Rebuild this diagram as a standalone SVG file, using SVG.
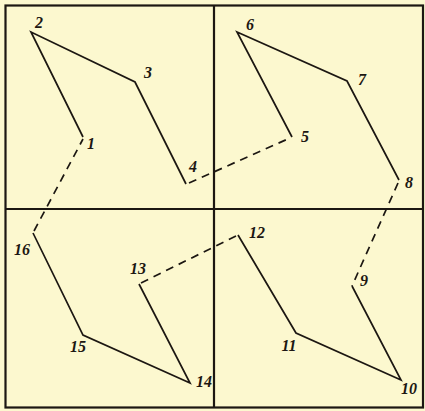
<svg xmlns="http://www.w3.org/2000/svg" width="425" height="411" viewBox="0 0 425 411">
<style>
.bg{fill:#fcf8cf}
.frame{fill:none;stroke:#1c1712;stroke-width:2.2}
.solid{fill:none;stroke:#1c1712;stroke-width:1.7;stroke-linejoin:miter}
.dash{fill:none;stroke:#1c1712;stroke-width:1.7;stroke-dasharray:8 6}
.lbl{font-family:"Liberation Serif",serif;font-style:italic;font-weight:bold;font-size:16px;fill:#1c1712;text-anchor:middle}
</style>
<rect class="bg" x="0" y="0" width="425" height="411"/>
<g id="frame">
<rect class="frame" x="5.5" y="5.5" width="417.5" height="402"/>
<line class="frame" x1="214" y1="5.5" x2="214" y2="407.5"/>
<line class="frame" x1="5.5" y1="209" x2="423" y2="209"/>
</g>
<g id="connectors">
<polyline class="solid" points="83,137 31,32 135,82 186,184"/>
<line class="dash" x1="189" y1="183" x2="290" y2="138"/>
<polyline class="solid" points="292,137 237,32 347,81 399,180"/>
<line class="dash" x1="398" y1="183" x2="352" y2="286"/>
<polyline class="solid" points="352,286 401,380 296,333 238,235"/>
<line class="dash" x1="236" y1="236" x2="141" y2="283"/>
<polyline class="solid" points="139,284 190,383 83,335 33,233"/>
<line class="dash" x1="34" y1="231" x2="83" y2="139"/>
</g>
<g id="n1"><text class="lbl" x="91" y="149">1</text></g>
<g id="n2"><text class="lbl" x="39" y="28">2</text></g>
<g id="n3"><text class="lbl" x="148" y="78">3</text></g>
<g id="n4"><text class="lbl" x="193" y="172">4</text></g>
<g id="n5"><text class="lbl" x="305" y="142">5</text></g>
<g id="n6"><text class="lbl" x="250" y="30">6</text></g>
<g id="n7"><text class="lbl" x="362" y="85">7</text></g>
<g id="n8"><text class="lbl" x="409" y="188">8</text></g>
<g id="n9"><text class="lbl" x="364" y="286">9</text></g>
<g id="n10"><text class="lbl" x="409" y="394">10</text></g>
<g id="n11"><text class="lbl" x="289" y="351">11</text></g>
<g id="n12"><text class="lbl" x="257" y="238">12</text></g>
<g id="n13"><text class="lbl" x="138" y="274">13</text></g>
<g id="n14"><text class="lbl" x="204" y="387">14</text></g>
<g id="n15"><text class="lbl" x="78" y="352">15</text></g>
<g id="n16"><text class="lbl" x="22" y="255">16</text></g>
</svg>
